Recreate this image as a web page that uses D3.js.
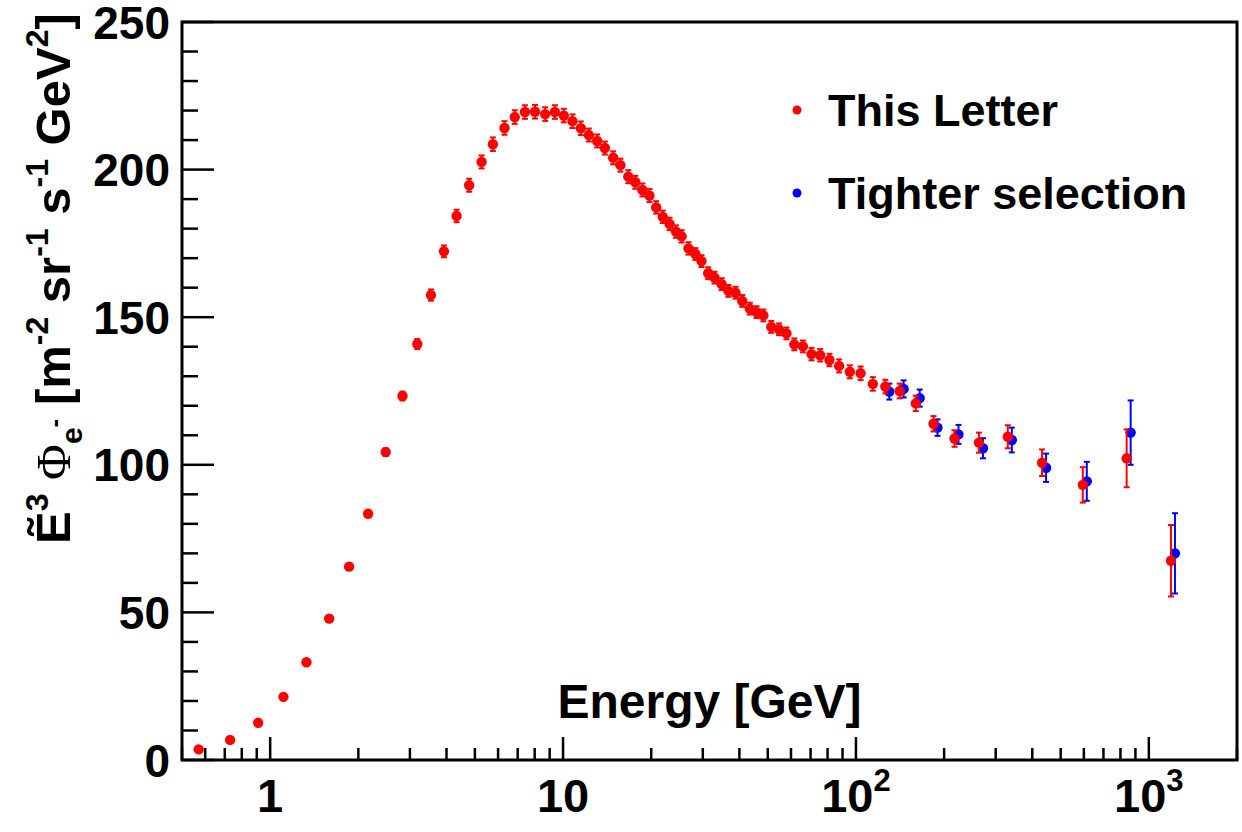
<!DOCTYPE html>
<html>
<head>
<meta charset="utf-8">
<script src="https://cdn.jsdelivr.net/npm/d3@7"></script>
<style>
  html, body { margin: 0; padding: 0; background: #fff; }
  svg { display: block; }
</style>
</head>
<body>
<svg id="chart" width="1242" height="832"></svg>
<script>
// Electron flux times E^3 versus energy (GeV)
const energies = [
  0.57, 0.73, 0.91, 1.11, 1.33, 1.59, 1.86, 2.16, 2.48, 2.83,
  3.18, 3.54, 3.92, 4.33, 4.78, 5.27, 5.76, 6.31, 6.84, 7.41,
  8.02, 8.69, 9.38, 10.06, 10.77, 11.5, 12.25, 13.07, 13.89, 14.83,
  15.7, 16.7, 17.65, 18.66, 19.73, 20.8, 21.9, 23.1, 24.3, 25.4,
  26.8, 28.3, 29.7, 31.3, 32.9, 34.8, 36.7, 38.8, 40.9, 43.4,
  45.8, 48.3, 51.4, 54.6, 57.9, 61.6, 65.9, 70.5, 75.5, 81.2,
  87.6, 95.3, 103.7, 114.2, 126, 141, 160, 184, 217, 263,
  330, 432, 595, 840, 1190
];
const thisLetter = [
  3.6, 6.8, 12.6, 21.4, 33.1, 47.9, 65.5, 83.4, 104.3, 123.3,
  140.9, 157.5, 172.3, 184.3, 194.7, 202.6, 208.6, 214.1, 217.8, 219.5,
  219.6, 218.8, 219.5, 218.3, 216.4, 214.0, 211.7, 209.7, 207.3, 204.0,
  201.5, 197.6, 195.7, 193.1, 191.2, 187.2, 184.0, 181.6, 179.0, 177.4,
  173.3, 171.4, 169.0, 164.9, 163.4, 161.2, 158.9, 158.3, 155.5, 152.9,
  151.7, 150.6, 146.7, 145.9, 144.5, 140.8, 140.1, 137.5, 137.1, 135.5,
  133.5, 131.5, 131.0, 127.4, 126.5, 125.0, 120.8, 113.9, 108.9, 107.5,
  109.5, 100.7, 93.2, 102.2, 67.5
];
const thisLetterErr = [
  0.2, 0.3, 0.4, 0.5, 0.6, 0.8, 1.0, 1.1, 1.3, 1.5,
  1.7, 1.9, 2.0, 2.1, 2.2, 2.2, 2.3, 2.3, 2.3, 2.3,
  2.3, 2.3, 2.3, 2.3, 2.3, 2.3, 2.2, 2.2, 2.2, 2.2,
  2.2, 2.2, 2.2, 2.2, 2.2, 2.1, 2.1, 2.1, 2.1, 2.1,
  2.1, 2.0, 2.0, 2.0, 2.0, 2.0, 2.0, 2.0, 2.0, 2.0,
  2.0, 2.0, 2.0, 2.0, 2.0, 2.0, 2.0, 2.1, 2.1, 2.1,
  2.2, 2.2, 2.3, 2.3, 2.3, 2.5, 2.6, 2.6, 2.8, 3.4,
  3.9, 4.5, 6.0, 9.8, 12.1
];
// Tighter selection, available from 126 GeV upward (same energy bins)
const tighterEnergies = [126, 141, 160, 184, 217, 263, 330, 432, 595, 840, 1190];
const tighter = [124.8, 125.7, 122.6, 112.6, 110.3, 105.6, 108.4, 99.0, 94.4, 110.9, 70.0];
const tighterErr = [2.7, 2.9, 2.9, 2.8, 3.2, 3.4, 4.2, 4.8, 6.6, 10.9, 13.6];

const xMajorTicks = [1, 10, 100, 1000];
const xTickLabels = [["1", ""], ["10", ""], ["10", "2"], ["10", "3"]];
const yMajorTicks = [0, 50, 100, 150, 200, 250];
const legendLabels = ["This Letter", "Tighter selection"];
const seriesColors = ["#ff0000", "#0000ff"];

(function draw() {
  const FONT = "'Liberation Sans', Arial, Helvetica, sans-serif";
  const SERIF = "'Liberation Serif', 'Times New Roman', serif";

  const svg = d3.select("#chart");
  const frameL = 182, frameR = 1237, frameT = 22, frameB = 760;

  const x = d3.scaleLog().domain([0.5, 2000]).range([frameL, frameR]);
  const y = d3.scaleLinear().domain([0, 250]).range([frameB, frameT]);

  // Axis ticks (drawn inside the frame, ROOT style)
  const xMinor = [];
  for (let dec = 0.1; dec <= 1000; dec *= 10) {
    for (let k = 2; k <= 9; k++) {
      const v = +(k * dec).toPrecision(3);
      if (v >= 0.5 && v <= 2000) xMinor.push(v);
    }
  }
  const yMinor = d3.range(0, 251, 10).filter(v => v % 50 !== 0);

  const ticks = svg.append("g").attr("stroke", "#000").attr("stroke-width", 2.5);
  ticks.selectAll(".xmaj").data(xMajorTicks).join("line").attr("class", "xmaj")
    .attr("x1", d => x(d)).attr("x2", d => x(d))
    .attr("y1", frameB).attr("y2", frameB - 23);
  ticks.selectAll(".xmin").data(xMinor).join("line").attr("class", "xmin")
    .attr("x1", d => x(d)).attr("x2", d => x(d))
    .attr("y1", frameB).attr("y2", frameB - 12);
  ticks.selectAll(".ymaj").data(yMajorTicks).join("line").attr("class", "ymaj")
    .attr("x1", frameL).attr("x2", frameL + 32)
    .attr("y1", d => y(d)).attr("y2", d => y(d));
  ticks.selectAll(".ymin").data(yMinor).join("line").attr("class", "ymin")
    .attr("x1", frameL).attr("x2", frameL + 16)
    .attr("y1", d => y(d)).attr("y2", d => y(d));

  // Frame
  svg.append("rect")
    .attr("x", frameL).attr("y", frameT)
    .attr("width", frameR - frameL).attr("height", frameB - frameT)
    .attr("fill", "none").attr("stroke", "#000").attr("stroke-width", 3);

  // Tick labels
  svg.append("g").selectAll("text").data(yMajorTicks).join("text")
    .attr("x", 170).attr("y", d => y(d)).attr("dy", "0.36em")
    .attr("text-anchor", "end")
    .attr("font-family", FONT).attr("font-weight", "bold").attr("font-size", 46)
    .text(d => d);

  const xl = svg.append("g").selectAll("text").data(xMajorTicks).join("text")
    .attr("x", d => x(d)).attr("y", 812)
    .attr("text-anchor", "middle")
    .attr("font-family", FONT).attr("font-weight", "bold").attr("font-size", 47);
  xl.each(function(d, i) {
    const t = d3.select(this);
    const [base, sup] = xTickLabels[i];
    t.append("tspan").text(base);
    if (sup) t.append("tspan").attr("font-size", 31).attr("dy", -21).text(sup);
  });

  // Axis titles
  svg.append("text")
    .attr("x", (frameL + frameR) / 2).attr("y", 718)
    .attr("text-anchor", "middle")
    .attr("font-family", FONT).attr("font-weight", "bold").attr("font-size", 48)
    .text("Energy [GeV]");

  const yTitle = svg.append("text")
    .attr("transform", "translate(70,544) rotate(-90)")
    .attr("font-family", FONT).attr("font-weight", "bold").attr("font-size", 49);
  const parts = [
    { t: "\u1EBC", s: 0 },
    { t: "3", s: -22, size: 32 },
    { t: " ", s: 0 },
    { t: "\u03A6", s: 0, family: SERIF, weight: "normal" },
    { t: "e", s: 12, size: 30 },
    { t: "-", s: -7, size: 26 },
    { t: " [m", s: 0 },
    { t: "-2", s: -22, size: 32 },
    { t: " sr", s: 0 },
    { t: "-1", s: -22, size: 32 },
    { t: " s", s: 0 },
    { t: "-1", s: -22, size: 32 },
    { t: " GeV", s: 0 },
    { t: "2", s: -22, size: 32 },
    { t: "]", s: 0 }
  ];
  let prevShift = 0;
  parts.forEach(p => {
    const ts = yTitle.append("tspan").attr("dy", p.s - prevShift).text(p.t);
    if (p.size) ts.attr("font-size", p.size);
    if (p.family) ts.attr("font-family", p.family);
    if (p.weight) ts.attr("font-weight", p.weight);
    prevShift = p.s;
  });

  // Data with error bars
  function drawSeries(xs, ys, es, color, dx) {
    const data = xs.map((e, i) => ({ e, v: ys[i], err: es[i] }));
    const g = svg.append("g");
    const bars = g.append("g").attr("stroke", color).attr("stroke-width", 2);
    bars.selectAll(".bar").data(data).join("line").attr("class", "bar")
      .attr("x1", d => x(d.e) + dx).attr("x2", d => x(d.e) + dx)
      .attr("y1", d => y(d.v - d.err)).attr("y2", d => y(d.v + d.err));
    bars.selectAll(".capHi").data(data).join("line").attr("class", "capHi")
      .attr("x1", d => x(d.e) + dx - 3).attr("x2", d => x(d.e) + dx + 3)
      .attr("y1", d => y(d.v + d.err)).attr("y2", d => y(d.v + d.err));
    bars.selectAll(".capLo").data(data).join("line").attr("class", "capLo")
      .attr("x1", d => x(d.e) + dx - 3).attr("x2", d => x(d.e) + dx + 3)
      .attr("y1", d => y(d.v - d.err)).attr("y2", d => y(d.v - d.err));
    g.selectAll("circle").data(data).join("circle")
      .attr("cx", d => x(d.e) + dx).attr("cy", d => y(d.v))
      .attr("r", 5.2).attr("fill", color);
  }
  drawSeries(tighterEnergies, tighter, tighterErr, seriesColors[1], 4);
  drawSeries(energies, thisLetter, thisLetterErr, seriesColors[0], 0);

  // Legend
  const legend = svg.append("g");
  legendLabels.forEach((lab, i) => {
    const ly = 110 + i * 83;
    legend.append("circle").attr("cx", 797).attr("cy", ly).attr("r", 4.5).attr("fill", seriesColors[i]);
    legend.append("text").attr("x", 828).attr("y", ly).attr("dy", "0.36em")
      .attr("font-family", FONT).attr("font-weight", "bold").attr("font-size", 45)
      .text(lab);
  });
})();
</script>
</body>
</html>
